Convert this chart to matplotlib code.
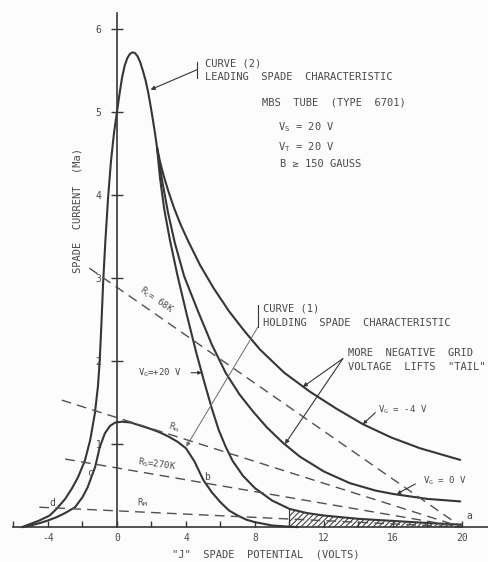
import numpy as np
import matplotlib
matplotlib.use("Agg")
import matplotlib.pyplot as plt

plt.rcParams['font.family'] = ['DejaVu Sans Mono', 'DejaVu Sans']
plt.rcParams['hatch.linewidth'] = 0.8

# --- values (volts, mA) ---
# leading spade characteristic, common part up to where the tails split
lead_x = [-5.5, -5.0, -4.5, -3.9, -3.5, -3.0, -2.6, -2.26, -1.86, -1.55, -1.28, -1.1,
          -1.0, -0.9, -0.8, -0.67, -0.52, -0.35, -0.17, 0.0, 0.15, 0.3, 0.45, 0.6,
          0.75, 0.9, 1.05, 1.2, 1.35, 1.5, 1.65, 1.8, 1.93, 2.05, 2.18, 2.32]
lead_y = [0.0, 0.04, 0.08, 0.14, 0.22, 0.34, 0.47, 0.6, 0.8, 1.05, 1.37, 1.7,
          2.0, 2.45, 2.95, 3.45, 3.95, 4.4, 4.75, 5.0, 5.22, 5.42, 5.56, 5.65,
          5.7, 5.72, 5.71, 5.67, 5.6, 5.5, 5.39, 5.25, 5.1, 4.95, 4.78, 4.58]

# tails for the three grid voltages
tail_p20_x = [2.32, 2.5, 2.75, 3.07, 3.5, 4.06, 4.6, 5.1, 5.5, 5.9, 6.3, 6.7, 7.3,
              8.0, 9.0, 10.0, 11.0, 12.0, 14.0, 16.0, 18.0, 20.0]
tail_p20_y = [4.58, 4.2, 3.82, 3.46, 3.04, 2.55, 2.1, 1.72, 1.43, 1.17, 0.97, 0.8, 0.62,
              0.47, 0.32, 0.22, 0.17, 0.14, 0.1, 0.075, 0.05, 0.03]
tail_0_x = [2.32, 2.6, 2.95, 3.36, 3.9, 4.7, 5.5, 6.3, 7.1, 7.9, 8.7, 9.6,
            10.6, 12.0, 13.5, 15.0, 16.0, 18.0, 19.9]
tail_0_y = [4.58, 4.2, 3.8, 3.42, 3.02, 2.6, 2.2, 1.86, 1.6, 1.39, 1.2, 1.02,
            0.85, 0.67, 0.53, 0.44, 0.4, 0.34, 0.31]
tail_m4_x = [2.32, 2.5, 2.7, 2.96, 3.3, 3.7, 4.12, 4.81, 5.6, 6.5, 7.4, 8.29, 9.7,
             11.2, 12.7, 14.26, 15.9, 17.57, 19.9]
tail_m4_y = [4.58, 4.4, 4.24, 4.06, 3.85, 3.64, 3.45, 3.16, 2.88, 2.6, 2.36, 2.14, 1.86,
             1.63, 1.43, 1.24, 1.08, 0.95, 0.81]

# holding spade characteristic
hold_x = [-5.5, -5.0, -4.46, -4.0, -3.5, -3.0, -2.43, -2.0, -1.7, -1.45, -1.27, -1.0,
          -0.7, -0.4, -0.1, 0.3, 0.8, 1.4, 2.0, 2.5, 3.0, 3.5, 4.0, 4.5, 5.0, 5.5,
          6.0, 6.5, 7.0, 7.5, 8.0, 9.0, 10.0, 10.5]
hold_y = [0.0, 0.02, 0.05, 0.08, 0.12, 0.17, 0.24, 0.36, 0.48, 0.62, 0.72, 0.96,
          1.13, 1.22, 1.26, 1.27, 1.26, 1.22, 1.18, 1.14, 1.09, 1.03, 0.95, 0.79, 0.57, 0.42,
          0.3, 0.2, 0.14, 0.09, 0.06, 0.02, 0.005, 0.0]

# load lines, all ending at point "a" (20 V, 0)
load_names = ['RC', 'Rm', 'RS', 'RM']
load_x0 = [-1.6, -3.2, -3.0, -4.5]
load_y0 = [3.12, 1.53, 0.82, 0.24]
point_a = (20.0, 0.0)

x_major = [-4, 0, 4, 8, 12, 16, 20]
x_minor = [-6, -2, 2, 6, 10, 14, 18]
y_major = [1, 2, 3, 4, 5, 6]

ink = '#363636'
txt = '#4a4a4a'

fig = plt.figure(figsize=(4.89, 5.62), dpi=100, facecolor='#fcfcfc')
ax = fig.add_axes([0, 0, 1, 1])
ax.set_facecolor('#fcfcfc')
ax.set_xlim(-6.78, 21.57)
ax.set_ylim(-0.42, 6.35)

# axes drawn through the origin like the original sheet
for s in ['top', 'right']:
    ax.spines[s].set_visible(False)
ax.spines['left'].set_position(('data', 0))
ax.spines['bottom'].set_position(('data', 0))
ax.spines['left'].set_bounds(0, 6.19)
ax.spines['bottom'].set_bounds(-6, 21.57)
for s in ['left', 'bottom']:
    ax.spines[s].set_color(ink)
    ax.spines[s].set_linewidth(1.2)

ax.set_xticks(x_major, labels=[str(v) for v in x_major])
ax.set_xticks(x_minor, minor=True)
ax.set_yticks(y_major, labels=[str(v) for v in y_major])
ax.tick_params(axis='x', which='both', direction='in', length=4, width=1,
               color=ink, labelsize=7, labelcolor=txt, pad=4)
ax.tick_params(axis='y', direction='inout', length=8, width=1,
               color=ink, labelsize=7, labelcolor=txt, pad=7)

# curves
line_kw = dict(color=ink, lw=1.5, solid_joinstyle='round', solid_capstyle='round')
ax.plot(lead_x, lead_y, **line_kw)
ax.plot(tail_p20_x, tail_p20_y, **line_kw)
ax.plot(tail_0_x, tail_0_y, **line_kw)
ax.plot(tail_m4_x, tail_m4_y, **line_kw)
ax.plot(hold_x, hold_y, **line_kw)

for x0, y0 in zip(load_x0, load_y0):
    ax.plot([x0, point_a[0]], [y0, point_a[1]], color='#505050', lw=1.0,
            dashes=(7, 4.5))

# hatched region under the +20 V tail
tx = np.array(tail_p20_x)
ty = np.array(tail_p20_y)
ax.fill_between(tx, 0, ty, where=tx >= 10, facecolor='none', edgecolor='#444444',
                hatch='//////', linewidth=0)
ax.plot([10, 10], [0, 0.22], color=ink, lw=0.8)

# text
fs = 7.5
ax.text(5.1, 5.58, 'CURVE (2)', fontsize=fs, color=txt, va='center')
ax.text(5.1, 5.42, 'LEADING  SPADE  CHARACTERISTIC', fontsize=fs, color=txt, va='center')
ax.plot([4.64, 4.64], [5.41, 5.6], color=ink, lw=0.8)
ax.annotate('', xy=(1.95, 5.27), xytext=(4.64, 5.51),
            arrowprops=dict(arrowstyle='-|>', lw=0.8, color=ink, mutation_scale=6,
                            shrinkA=0, shrinkB=0))

ax.text(8.4, 5.11, 'MBS  TUBE  (TYPE  6701)', fontsize=fs, color=txt, va='center')
ax.text(9.33, 4.82, 'V$_\\mathregular{S}$ = 20 V', fontsize=fs, color=txt, va='center')
ax.text(9.33, 4.58, 'V$_\\mathregular{T}$ = 20 V', fontsize=fs, color=txt, va='center')
ax.text(9.45, 4.37, 'B \u2265 150 GAUSS', fontsize=fs, color=txt, va='center')

ax.text(8.46, 2.63, 'CURVE (1)', fontsize=fs, color=txt, va='center')
ax.text(8.46, 2.46, 'HOLDING  SPADE  CHARACTERISTIC', fontsize=fs, color=txt, va='center')
ax.plot([8.17, 8.17], [2.41, 2.67], color=ink, lw=0.8)
ax.annotate('', xy=(4.02, 0.97), xytext=(8.17, 2.41),
            arrowprops=dict(arrowstyle='-|>', lw=0.7, color='#6a6a6a', mutation_scale=6,
                            shrinkA=0, shrinkB=0))

ax.text(13.4, 2.1, 'MORE  NEGATIVE  GRID', fontsize=fs, color=txt, va='center')
ax.text(13.4, 1.93, 'VOLTAGE  LIFTS  "TAIL"', fontsize=fs, color=txt, va='center')
for end in [(10.78, 1.69), (9.74, 1.0)]:
    ax.annotate('', xy=end, xytext=(13.1, 2.03),
                arrowprops=dict(arrowstyle='-|>', lw=0.8, color=ink, mutation_scale=6,
                                shrinkA=0, shrinkB=0))

ax.text(1.2, 1.86, 'V$_\\mathregular{G}$=+20 V', fontsize=6.5, color=txt, va='center')
ax.annotate('', xy=(4.92, 1.86), xytext=(4.3, 1.86),
            arrowprops=dict(arrowstyle='-|>', lw=0.8, color=ink, mutation_scale=5,
                            shrinkA=0, shrinkB=0))
ax.text(15.15, 1.41, 'V$_\\mathregular{G}$ = -4 V', fontsize=6.5, color=txt, va='center')
ax.annotate('', xy=(14.26, 1.24), xytext=(14.98, 1.38),
            arrowprops=dict(arrowstyle='-|>', lw=0.8, color=ink, mutation_scale=5,
                            shrinkA=0, shrinkB=0))
ax.text(17.75, 0.56, 'V$_\\mathregular{G}$ = 0 V', fontsize=6.5, color=txt, va='center')
ax.annotate('', xy=(16.23, 0.4), xytext=(17.3, 0.52),
            arrowprops=dict(arrowstyle='-|>', lw=0.8, color=ink, mutation_scale=5,
                            shrinkA=0, shrinkB=0))

ax.text(2.3, 2.74, 'R$_\\mathregular{C}$= 68K', fontsize=6.5, color=txt,
        ha='center', va='center', rotation=-35)
ax.text(3.3, 1.2, 'R$_\\mathregular{m}$', fontsize=6.5, color=txt,
        ha='center', va='center', rotation=-15)
ax.text(2.3, 0.76, 'R$_\\mathregular{S}$=270K', fontsize=6.5, color=txt,
        ha='center', va='center', rotation=-8)
ax.text(1.5, 0.29, 'R$_\\mathregular{M}$', fontsize=6.5, color=txt,
        ha='center', va='center')

for lab, xy in [('a', (20.4, 0.14)), ('b', (5.2, 0.6)), ('c', (-1.57, 0.65)),
                ('d', (-3.77, 0.29))]:
    ax.text(xy[0], xy[1], lab, fontsize=7, color=txt, ha='center', va='center')

ax.text(-2.26, 3.82, 'SPADE  CURRENT  (Ma)', fontsize=fs, color=txt,
        rotation=90, ha='center', va='center')
ax.text(8.6, -0.33, '"J"  SPADE  POTENTIAL  (VOLTS)', fontsize=fs, color=txt,
        ha='center', va='center')

fig.savefig('out.png', dpi=100, facecolor=fig.get_facecolor())
